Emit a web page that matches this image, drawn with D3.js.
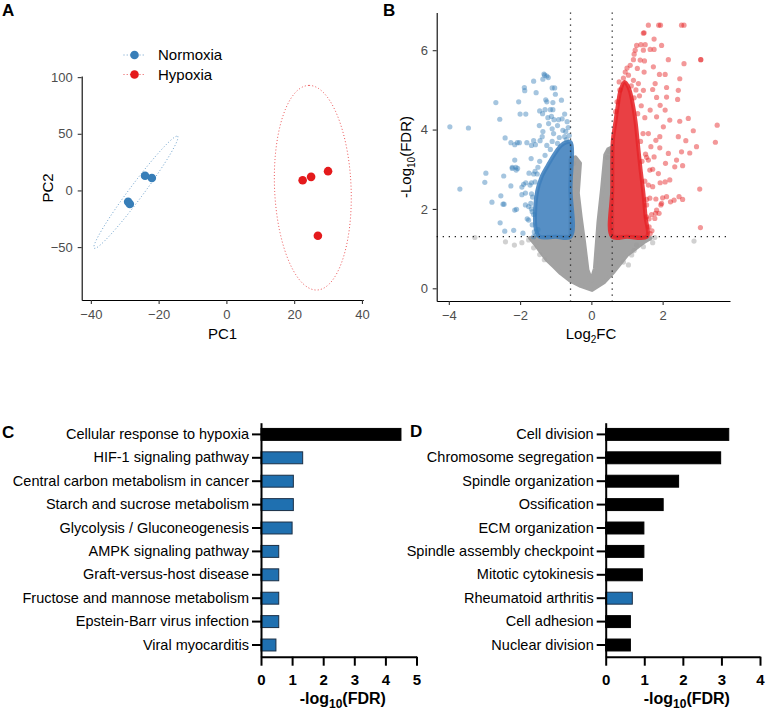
<!DOCTYPE html>
<html>
<head>
<meta charset="utf-8">
<script src="https://cdn.jsdelivr.net/npm/d3@7"></script>
<style>
  body { margin: 0; background: #fff; }
  svg { font-family: "Liberation Sans", Arial, Helvetica, sans-serif; }
</style>
</head>
<body>
<svg id="fig" width="767" height="712"></svg>
<script>
// ---------- Data ----------
// A: PCA
const pcaGroups = ['Normoxia', 'Hypoxia'];
const pcaColors = ['#377eb8', '#e41a1c'];
const pc1Values = [[-29, -28.5, -24, -22], [22.5, 25, 30, 27]];
const pc2Values = [[-10, -12, 13, 11], [9, 12, 17, -40]];
// confidence ellipses: centre, major and minor semi-axis vectors (PC units)
const ellipseCenter = [[-26.7, -1.6], [25.5, 2.4]];
const ellipseMajor = [[12.3, 49.4], [-1.1, 90.3]];
const ellipseMinor = [[1.66, -3.72], [11.3, 0.1]];
const pc1Ticks = [-40, -20, 0, 20, 40];
const pc2Ticks = [-50, 0, 50, 100];

// B: volcano (log2FC, -log10 FDR)
const fcCut = 0.585;
const fdrCut = 1.301;
const logFcTicks = [-4, -2, 0, 2];
const fdrTicks = [0, 2, 4, 6];
// outline of the dense clouds
const greyCloud = [[0.02,-0.04],[-0.3,0.06],[-0.6,0.2],[-0.86,0.38],[-1.05,0.55],[-1.25,0.72],[-1.42,0.92],
  [-1.58,1.12],[-1.72,1.27],[-1.2,1.3],[-0.585,1.3],[-0.585,3.25],[-0.45,3.3],[-0.32,3.15],
  [-0.38,2.4],[-0.3,1.8],[-0.2,1.13],[-0.11,0.46],[0.0,0.2],[0.1,0.5],[0.2,1.68],[0.3,2.5],[0.39,3.36],
  [0.47,3.5],[0.585,3.55],[0.585,1.3],[1.2,1.3],[1.65,1.26],[1.45,1.15],[1.0,0.84],[0.63,0.42],[0.35,0.15]];
const downCloud = [[-0.585,1.3],[-1.0,1.3],[-1.45,1.3],[-1.56,1.5],[-1.58,1.9],[-1.52,2.45],[-1.4,2.8],[-1.22,3.1],
  [-1.02,3.4],[-0.85,3.6],[-0.7,3.68],[-0.585,3.68],[-0.585,2.5]];
const upCloud = [[0.585,1.3],[1.0,1.3],[1.56,1.3],[1.52,1.8],[1.46,2.4],[1.38,3.0],[1.31,3.6],[1.24,4.2],[1.15,4.7],
  [1.05,5.05],[0.93,5.2],[0.82,5.0],[0.74,4.6],[0.66,4.1],[0.6,3.7],[0.585,2.5]];
// scattered genes outside the clouds
const greyPoints = [[-2.41,1.17],[-2.16,1.09],[-3.27,1.28],[-1.76,1.22],[-1.95,1.15],[2.88,1.19],[1.46,1.05],
  [1.27,1.09],[1.13,0.84],[1.04,0.59],[1.65,1.26],[1.72,1.15],[-1.62,1.02],[-1.45,0.85],[-1.32,0.72],
  [1.2,0.95],[0.9,0.66],[1.78,1.28],[-0.55,3.3],[-0.5,3.15],[0.5,3.45],[0.45,3.3]];
const downPoints = [[-3.97,4.07],[-3.45,4.04],[-3.69,2.50],[-2.96,2.90],[-2.99,2.67],[-2.68,4.68],[-2.57,4.26],
  [-2.79,2.17],[-2.42,3.79],[-2.54,2.33],[-2.48,2.12],[-2.45,2.12],[-2.56,1.65],[-2.43,1.44],[-2.18,1.46],
  [-1.92,1.39],[-2.04,4.70],[-2.0,4.39],[-1.84,4.39],[-1.88,5.06],[-1.87,4.98],[-1.62,5.22],[-1.55,4.93],
  [-1.36,5.27],[-1.31,5.37],[-1.25,5.35],[-1.21,5.31],[-1.1,5.05],[-1.03,5.05],[-1.28,4.75],[-1.25,4.70],
  [-1.08,4.68],[-1.01,4.89],[-0.84,4.74],[-1.45,4.47],[-1.37,4.40],[-1.30,4.50],[-1.15,4.50],[-1.08,4.50],
  [-0.75,4.39],[-1.22,4.30],[-1.12,4.33],[-1.05,4.25],[-0.92,4.25],[-0.82,4.27],[-1.46,4.10],[-1.10,4.02],
  [-1.06,3.90],[-1.62,3.72],[-1.57,3.62],[-1.68,3.60],[-1.38,3.82],[-1.44,3.72],[-0.80,3.98],[-0.72,3.95],
  [-0.75,3.82],[-2.26,3.67],[-2.15,3.62],[-2.08,3.67],[-2.02,3.67],[-1.81,3.67],[-2.15,3.23],[-1.69,3.27],
  [-2.22,3.05],[-2.12,3.05],[-2.15,1.97],[-2.10,1.99],[-2.26,2.58],[-2.46,2.83],[-2.22,3.02],[-2.11,2.98],
  [-2.07,3.02],[-1.75,2.90],[-1.62,2.88],[-1.52,2.88],[-1.72,2.60],[-1.68,2.66],[-1.58,2.68],[-1.95,2.55],
  [-1.90,2.62],[-1.84,2.66],[-1.95,2.36],[-1.85,2.40],[-1.68,2.38],[-1.85,2.10],[-1.76,2.06],[-1.70,2.14],
  [-1.66,1.93],[-1.62,1.86],[-1.80,1.75],[-1.76,1.72],[-1.60,1.42],[-1.50,1.48],[-1.33,5.40],[-1.36,3.95],
  [-1.2,4.15],[-0.95,4.1],[-0.68,4.2],[-0.9,3.8],[-1.25,3.6],[-1.1,3.7],[-0.95,3.65],[-0.65,4.05],
  [-1.45,3.2],[-1.5,3.05],[-1.58,2.95],[-1.65,2.3],[-1.68,2.0],[-1.66,1.6],[-1.3,3.35],[-1.15,3.5],
  [-0.62,3.85],[-0.7,3.75],[-1.62,1.3],[-1.55,1.35]];
const upPoints = [[1.60,6.63],[1.89,6.63],[1.94,6.63],[2.53,6.63],[2.60,6.63],[1.46,6.43],[1.76,6.28],
  [1.27,6.12],[1.39,6.14],[1.51,6.14],[1.97,6.12],[1.23,6.00],[1.46,6.00],[1.65,6.02],[1.76,6.02],
  [3.07,5.76],[3.07,5.76],[2.16,5.76],[2.60,5.66],[1.18,5.76],[1.37,5.75],[1.49,5.73],[1.09,5.62],[1.29,5.54],
  [1.48,5.45],[1.74,5.58],[1.91,5.39],[2.07,5.39],[2.48,5.28],[2.11,5.06],[2.44,4.99],[2.11,4.82],
  [2.42,4.76],[1.83,4.81],[1.93,4.61],[2.07,4.49],[3.53,4.11],[2.72,4.28],[2.48,4.21],[2.20,4.24],
  [2.86,3.97],[2.02,4.07],[2.44,3.82],[2.65,3.72],[3.48,3.68],[2.95,3.57],[2.16,3.40],[2.53,3.44],
  [2.08,3.15],[2.39,3.23],[2.76,3.41],[2.34,3.06],[2.56,3.09],[3.04,2.50],[2.56,2.24],[2.46,2.31],
  [2.11,2.31],[2.22,2.18],[2.32,2.22],[1.97,2.14],[1.81,2.25],[1.55,2.24],[3.06,1.53],[1.80,1.89],
  [1.90,1.89],[1.55,1.80],[1.65,1.38],[2.07,2.68],[2.20,2.73],[1.88,2.89],[1.93,2.66],[1.72,2.56],
  [1.76,3.31],[1.67,3.57],[1.81,3.73],[1.60,3.90],[1.83,4.32],[1.65,4.49],[1.46,4.99],[1.32,5.16],
  [1.18,5.24],[1.04,5.37],[1.72,5.01],[1.79,5.16],[1.95,2.10],[1.83,1.97],[1.69,1.86],[1.78,1.76],
  [1.72,3.0],[1.64,2.98],[1.60,3.23],[1.52,3.38],[1.92,3.54],[1.92,3.82],[1.64,2.27],[2.0,2.28],
  [1.48,6.44],[1.2,5.9],[1.0,5.55],[0.95,5.45],[1.4,4.6],[1.35,4.85],[1.5,4.3],[1.45,3.9],[1.55,3.3],
  [0.8,5.0],[0.72,4.7],[0.68,4.45],[1.6,2.6],[1.62,1.55],[1.7,1.45],[1.3,4.4],[1.38,3.7],[1.42,3.2],
  [1.5,2.7],[1.55,2.1],[1.62,1.75],[0.9,5.3],[0.78,5.2],[1.12,5.1],[1.2,4.8],[1.25,5.0]];

// C / D: enrichment
const termsC = ['Cellular response to hypoxia', 'HIF-1 signaling pathway', 'Central carbon metabolism in cancer',
  'Starch and sucrose metabolism', 'Glycolysis / Gluconeogenesis', 'AMPK signaling pathway',
  'Graft-versus-host disease', 'Fructose and mannose metabolism', 'Epstein-Barr virus infection', 'Viral myocarditis'];
const valuesC = [4.5, 1.34, 1.04, 1.04, 1.0, 0.57, 0.57, 0.57, 0.57, 0.48];
const sourceC = ['GO', 'KEGG', 'KEGG', 'KEGG', 'KEGG', 'KEGG', 'KEGG', 'KEGG', 'KEGG', 'KEGG'];
const termsD = ['Cell division', 'Chromosome segregation', 'Spindle organization', 'Ossification',
  'ECM organization', 'Spindle assembly checkpoint', 'Mitotic cytokinesis', 'Rheumatoid arthritis',
  'Cell adhesion', 'Nuclear division'];
const valuesD = [3.19, 2.98, 1.89, 1.49, 0.99, 0.99, 0.95, 0.69, 0.64, 0.64];
const sourceD = ['GO', 'GO', 'GO', 'GO', 'GO', 'GO', 'GO', 'KEGG', 'GO', 'GO'];
const ticksC = [0, 1, 2, 3, 4, 5];
const ticksD = [0, 1, 2, 3, 4];
const sourceFill = {GO: '#000000', KEGG: '#1f70b0'};
const sourceStroke = {GO: '#000000', KEGG: '#1b2f45'};

const svg = d3.select('#fig');

// ggplot-ish axis styling
function styleGG(g, fontSize) {
    g.attr('font-family', null).attr('font-size', null);
    g.select('.domain').attr('stroke', '#000').attr('stroke-width', 1.1);
    g.selectAll('.tick line').attr('stroke', '#333').attr('stroke-width', 1.1);
    g.selectAll('.tick text').attr('fill', '#4d4d4d').style('font-size', fontSize + 'px');
}

function panelLabel(txt, x, y) {
    svg.append('text').attr('x', x).attr('y', y).text(txt)
        .style('font-size', '17px').style('font-weight', 'bold');
}

// ---------- A: PCA ----------
const xA = d3.scaleLinear().domain([-42.7, 40.4]).range([81.7, 363.3]);
const yA = d3.scaleLinear().domain([-96.7, 101]).range([300, 76]);

svg.append('g').attr('transform', 'translate(0,300)')
    .call(d3.axisBottom(xA).tickValues(pc1Ticks).tickSize(4).tickSizeOuter(0).tickPadding(5.5))
    .call(g => styleGG(g, 13));
svg.append('g').attr('transform', 'translate(81.7,0)')
    .call(d3.axisLeft(yA).tickValues(pc2Ticks).tickSize(4).tickSizeOuter(0).tickPadding(5))
    .call(g => styleGG(g, 13));

const ellipseLine = d3.line().x(d => xA(d[0])).y(d => yA(d[1])).curve(d3.curveLinearClosed);
const angles = d3.range(0, 2 * Math.PI, Math.PI / 90);
pcaGroups.forEach((grp, i) => {
    const c = ellipseCenter[i], u = ellipseMajor[i], v = ellipseMinor[i];
    const pts = angles.map(t => [c[0] + u[0] * Math.cos(t) + v[0] * Math.sin(t),
                                 c[1] + u[1] * Math.cos(t) + v[1] * Math.sin(t)]);
    svg.append('path').attr('d', ellipseLine(pts))
        .attr('fill', 'none').attr('stroke', pcaColors[i]).attr('stroke-opacity', 0.75)
        .attr('stroke-width', 1).attr('stroke-dasharray', '1,2.2');
    svg.append('g').selectAll('circle')
        .data(d3.zip(pc1Values[i], pc2Values[i]))
        .enter().append('circle')
        .attr('cx', d => xA(d[0])).attr('cy', d => yA(d[1])).attr('r', 4.3)
        .attr('fill', pcaColors[i]);
});

// legend
const legend = svg.append('g').selectAll('g').data(pcaGroups).enter().append('g')
    .attr('transform', (d, i) => `translate(134.5, ${55 + i * 19.5})`);
legend.append('line').attr('x1', -11).attr('x2', 11)
    .attr('stroke', (d, i) => pcaColors[i]).attr('stroke-opacity', 0.75)
    .attr('stroke-width', 1).attr('stroke-dasharray', '1,2.2');
legend.append('circle').attr('r', 4.3).attr('fill', (d, i) => pcaColors[i]);
legend.append('text').attr('x', 23.5).attr('y', 5.3).text(d => d).style('font-size', '15px');

svg.append('text').attr('x', 222.5).attr('y', 339).attr('text-anchor', 'middle')
    .style('font-size', '15px').text('PC1');
svg.append('text').attr('transform', 'translate(53,188) rotate(-90)').attr('text-anchor', 'middle')
    .style('font-size', '15px').text('PC2');

// ---------- B: Volcano ----------
const xB = d3.scaleLinear().domain([-4.34, 3.89]).range([436.7, 730]);
const yB = d3.scaleLinear().domain([-0.32, 6.95]).range([301, 12.5]);

const greyLine = d3.line().x(d => xB(d[0])).y(d => yB(d[1])).curve(d3.curveLinearClosed);
const cloudLine = d3.line().x(d => xB(d[0])).y(d => yB(d[1])).curve(d3.curveCatmullRomClosed.alpha(0.5));
const volcano = svg.append('g');

function cloud(gen, poly, color, opacity) {
    volcano.append('path').attr('d', gen(poly))
        .attr('fill', color).attr('fill-opacity', opacity)
        .attr('stroke', color).attr('stroke-opacity', opacity)
        .attr('stroke-width', 4).attr('stroke-linejoin', 'round');
}
function dots(points, color, op) {
    volcano.append('g').selectAll('circle').data(points).enter().append('circle')
        .attr('cx', d => xB(d[0])).attr('cy', d => yB(d[1])).attr('r', 2.6)
        .attr('fill', color).attr('fill-opacity', op);
}

cloud(greyLine, greyCloud, '#a2a2a2', 1);
dots(greyPoints, '#999999', 0.45);
cloud(cloudLine, downCloud, '#3f80bd', 0.88);
cloud(cloudLine, upCloud, '#e6262a', 0.88);
dots(downPoints, '#377eb8', 0.45);
dots(upPoints, '#e41a1c', 0.45);

// threshold lines
const yTop = yB.range()[1], yBot = yB.range()[0];
[-fcCut, fcCut].forEach(v => {
    svg.append('line').attr('x1', xB(v)).attr('x2', xB(v)).attr('y1', yTop).attr('y2', yBot)
        .attr('stroke', '#222').attr('stroke-width', 1.3).attr('stroke-dasharray', '1.3,4.7');
});
svg.append('line').attr('x1', xB.range()[0]).attr('x2', xB.range()[1])
    .attr('y1', yB(fdrCut)).attr('y2', yB(fdrCut))
    .attr('stroke', '#222').attr('stroke-width', 1.3).attr('stroke-dasharray', '1.3,4.7');

svg.append('g').attr('transform', 'translate(0,301)')
    .call(d3.axisBottom(xB).tickValues(logFcTicks).tickSize(4).tickSizeOuter(0).tickPadding(5.5)
        .tickFormat(d3.format('d')))
    .call(g => styleGG(g, 13));
svg.append('g').attr('transform', 'translate(436.7,0)')
    .call(d3.axisLeft(yB).tickValues(fdrTicks).tickSize(4).tickSizeOuter(0).tickPadding(4.7))
    .call(g => styleGG(g, 13));

const log2Title = svg.append('text').attr('x', 591).attr('y', 339).attr('text-anchor', 'middle')
    .style('font-size', '15px');
log2Title.append('tspan').text('Log');
log2Title.append('tspan').attr('dy', 4).style('font-size', '10px').text('2');
log2Title.append('tspan').attr('dy', -4).text('FC');

const fdrTitle = svg.append('text').attr('transform', 'translate(411,157) rotate(-90)')
    .attr('text-anchor', 'middle').style('font-size', '15px');
fdrTitle.append('tspan').text('-Log');
fdrTitle.append('tspan').attr('dy', 4).style('font-size', '10px').text('10');
fdrTitle.append('tspan').attr('dy', -4).text('(FDR)');

// ---------- C / D: enrichment bars ----------
function barPanel(terms, values, sources, x0, x1, maxVal, ticks) {
    const x = d3.scaleLinear().domain([0, maxVal]).range([x0, x1]);
    const y = d3.scaleBand().domain(terms).range([422.7, 656.7])
        .paddingInner(0.49).paddingOuter(0.245);
    const g = svg.append('g');
    g.selectAll('rect').data(terms).enter().append('rect')
        .attr('x', x(0)).attr('y', d => y(d))
        .attr('width', (d, i) => x(values[i]) - x(0)).attr('height', y.bandwidth())
        .attr('fill', (d, i) => sourceFill[sources[i]])
        .attr('stroke', (d, i) => sourceStroke[sources[i]]).attr('stroke-width', 1);

    const ax = g.append('g').attr('transform', 'translate(0,656.7)')
        .call(d3.axisBottom(x).tickValues(ticks).tickSize(9).tickSizeOuter(0).tickPadding(9)
            .tickFormat(d3.format('d')));
    ax.attr('font-family', null).attr('font-size', null);
    ax.selectAll('.tick text').style('font-size', '15px').style('font-weight', 'bold').attr('fill', '#000');

    const ay = g.append('g').attr('transform', `translate(${x0},0)`)
        .call(d3.axisLeft(y).tickSize(9).tickSizeOuter(0).tickPadding(3));
    ay.attr('font-family', null).attr('font-size', null);
    ay.selectAll('.tick text').style('font-size', '14.5px').attr('fill', '#000');

    [ax, ay].forEach(a => {
        a.select('.domain').attr('stroke', '#000').attr('stroke-width', 2);
        a.selectAll('.tick line').attr('stroke', '#000').attr('stroke-width', 2);
    });

    const title = svg.append('text').attr('x', (x0 + x1) / 2 + 4).attr('y', 704)
        .attr('text-anchor', 'middle').style('font-size', '16px').style('font-weight', 'bold');
    title.append('tspan').text('-log');
    title.append('tspan').attr('dy', 4).style('font-size', '12px').text('10');
    title.append('tspan').attr('dy', -4).text('(FDR)');
}

barPanel(termsC, valuesC, sourceC, 261, 416.5, 5, ticksC);
barPanel(termsD, valuesD, sourceD, 605.7, 760, 4, ticksD);

panelLabel('A', 2, 16);
panelLabel('B', 383, 16);
panelLabel('C', 2, 438);
panelLabel('D', 410, 437);
</script>
</body>
</html>
